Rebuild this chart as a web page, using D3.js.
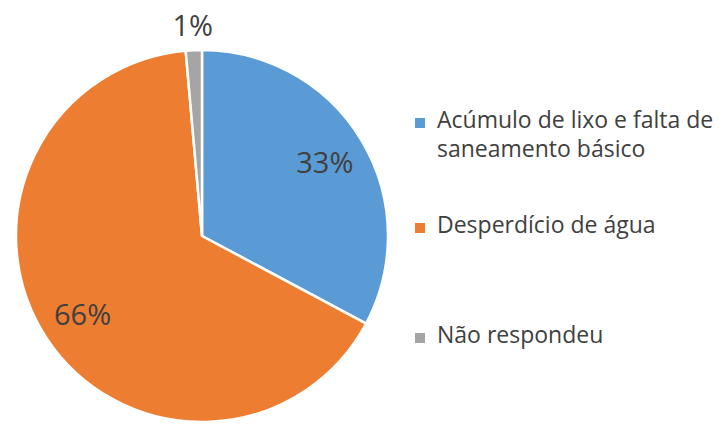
<!DOCTYPE html>
<html><head><meta charset="utf-8">
<script src="https://cdn.jsdelivr.net/npm/d3@7"></script>
<style>body{margin:0;background:#fff}svg{display:block}</style>
</head><body>
<svg id="c" width="725" height="437"></svg>
<script>
const categories = ["Acúmulo de lixo e falta de saneamento básico", "Desperdício de água", "Não respondeu"];
const legendLines = [["Acúmulo de lixo e falta de", "saneamento básico"], ["Desperdício de água"], ["Não respondeu"]];
const values = [32.8, 65.8, 1.4];
const labels = ["33%", "66%", "1%"];
const colors = ["#5B9BD5", "#ED7D31", "#A5A5A5"];

const svg = d3.select("#c");
const font = "'Open Sans', 'Noto Sans', sans-serif";
const cx = 202, cy = 236, R = 186;
const g = svg.append("g").attr("transform", `translate(${cx},${cy})`);
const pie = d3.pie().sort(null).value(d => d)(values);
const arc = d3.arc().innerRadius(0).outerRadius(R);
g.selectAll("path").data(pie).enter().append("path")
  .attr("d", arc).attr("fill", (d, i) => colors[i])
  .attr("stroke", "#fff").attr("stroke-width", 2.5).attr("stroke-linejoin", "round");

const inner = d3.arc().innerRadius(R * 0.77).outerRadius(R * 0.77);
const outer = d3.arc().innerRadius(R * 1.13).outerRadius(R * 1.13);
g.selectAll("text.lbl").data(pie).enter().append("text")
  .attr("class", "lbl")
  .attr("transform", (d, i) => {
    const p = (values[i] < 5 ? outer : inner).centroid(d);
    return `translate(${p[0]},${p[1]})`;
  })
  .attr("text-anchor", "middle").attr("dy", "0.36em")
  .attr("font-family", font).attr("font-size", 29).attr("fill", "#404040")
  .text((d, i) => labels[i]);

const legY = [128, 233, 343];
const lg = svg.append("g");
legendLines.forEach((lines, i) => {
  lg.append("rect").attr("x", 415).attr("y", legY[i] - 10).attr("width", 10).attr("height", 10).attr("fill", colors[i]);
  const t = lg.append("text").attr("x", 437).attr("y", legY[i])
    .attr("font-family", font).attr("font-size", 23).attr("fill", "#404040");
  lines.forEach((ln, j) => {
    t.append("tspan").attr("x", 437).attr("dy", j === 0 ? 0 : 29).text(ln);
  });
});
</script>
</body></html>
